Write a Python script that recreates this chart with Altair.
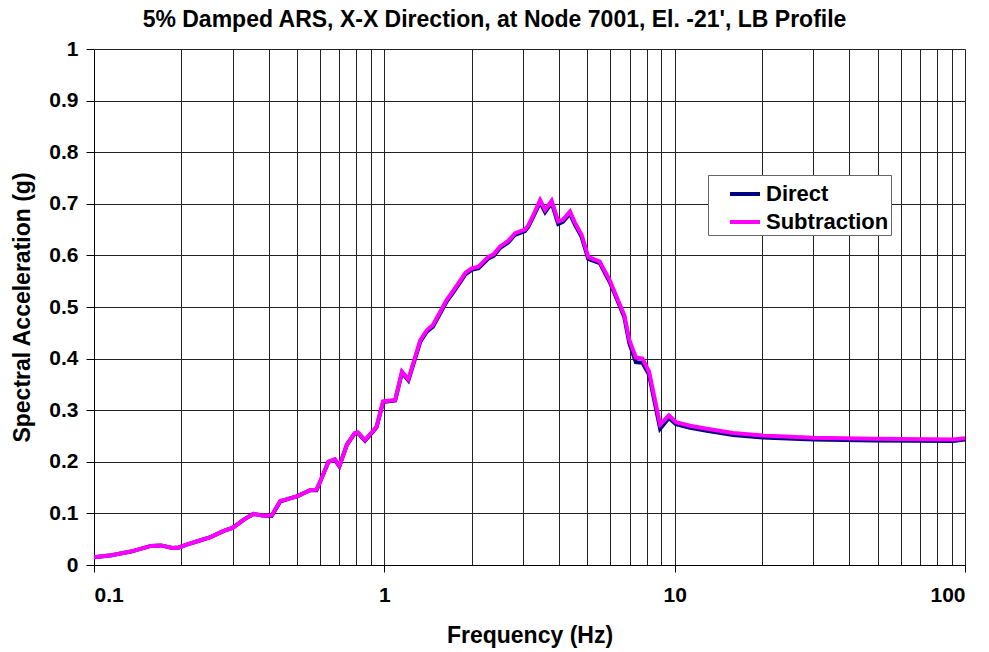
import altair as alt
import pandas as pd

# Frequency points (Hz) of the response spectrum
freq = [0.1, 0.115, 0.134, 0.157, 0.170, 0.186, 0.196, 0.21, 0.227, 0.252,
        0.28, 0.30, 0.318, 0.328, 0.354, 0.38, 0.409, 0.438, 0.473, 0.50,
        0.555, 0.584, 0.61, 0.642, 0.675, 0.70, 0.743, 0.79, 0.81, 0.858,
        0.94, 0.99, 1.09, 1.15, 1.21, 1.33, 1.40, 1.47, 1.58, 1.64,
        1.73, 1.85, 1.90, 2.0, 2.11, 2.28, 2.38, 2.50, 2.67, 2.82,
        3.05, 3.13, 3.26, 3.44, 3.58, 3.77, 3.97, 4.12, 4.36, 4.52,
        4.78, 5.04, 5.52, 5.97, 6.37, 6.71, 6.98, 7.35, 7.74, 8.16,
        8.91, 9.55, 10.1, 11.3, 12.9, 15.9, 20.1, 30.0, 48.3, 91.0,
        100.0]

# Spectral acceleration (g), direct method
direct = [0.015, 0.019, 0.026, 0.037, 0.038, 0.033, 0.034, 0.040, 0.046, 0.054,
          0.066, 0.072, 0.082, 0.088, 0.099, 0.096, 0.095, 0.123, 0.129, 0.133,
          0.145, 0.145, 0.170, 0.200, 0.204, 0.191, 0.233, 0.255, 0.256, 0.241,
          0.267, 0.316, 0.319, 0.373, 0.358, 0.433, 0.452, 0.462, 0.494, 0.511,
          0.529, 0.553, 0.563, 0.572, 0.575, 0.594, 0.599, 0.614, 0.625, 0.640,
          0.647, 0.655, 0.675, 0.703, 0.684, 0.702, 0.661, 0.665, 0.681, 0.661,
          0.636, 0.593, 0.585, 0.549, 0.511, 0.480, 0.430, 0.393, 0.392, 0.369,
          0.264, 0.285, 0.273, 0.266, 0.260, 0.252, 0.247, 0.243, 0.2415, 0.2405,
          0.243]

# Spectral acceleration (g), subtraction method
subtraction = [0.015, 0.019, 0.026, 0.037, 0.038, 0.033, 0.034, 0.040, 0.046, 0.054,
               0.066, 0.072, 0.082, 0.088, 0.099, 0.096, 0.096, 0.124, 0.129, 0.133,
               0.145, 0.146, 0.170, 0.200, 0.205, 0.192, 0.233, 0.255, 0.257, 0.242,
               0.268, 0.317, 0.320, 0.375, 0.360, 0.436, 0.455, 0.465, 0.497, 0.514,
               0.532, 0.556, 0.566, 0.575, 0.578, 0.597, 0.602, 0.617, 0.628, 0.643,
               0.650, 0.658, 0.678, 0.707, 0.688, 0.706, 0.666, 0.669, 0.685, 0.665,
               0.640, 0.597, 0.588, 0.552, 0.514, 0.484, 0.436, 0.402, 0.400, 0.375,
               0.272, 0.290, 0.277, 0.270, 0.264, 0.256, 0.251, 0.2465, 0.2445, 0.243,
               0.2455]

series = ["Direct", "Subtraction"]
colors = ["#000080", "#FF00FF"]

x_grid = [m * d for d in (0.1, 1, 10) for m in range(1, 10)] + [100]
y_ticks = [0, 0.1, 0.2, 0.3, 0.4, 0.5, 0.6, 0.7, 0.8, 0.9, 1.0]

df = pd.concat([
    pd.DataFrame({"f": freq, "sa": direct, "method": series[0]}),
    pd.DataFrame({"f": freq, "sa": subtraction, "method": series[1]}),
])

FONT = "Liberation Sans"
decade = "abs(log(datum.value)/LN10 - round(log(datum.value)/LN10)) < 0.0001"

chart = alt.Chart(df).mark_line(strokeWidth=4).encode(
    x=alt.X("f:Q",
            scale=alt.Scale(type="log", domain=[0.1, 100], nice=False),
            axis=alt.Axis(
                title="Frequency (Hz)",
                values=x_grid,
                labelExpr=f"({decade}) ? format(datum.value, '~g') : ''",
                tickOpacity={"condition": {"test": decade, "value": 1}, "value": 0},
                tickSize=7, tickColor="#000", tickWidth=1,
                labelPadding=12, titlePadding=19,
                domainColor="#000", domainWidth=1,
                grid=True, gridColor="#222", gridWidth=1,
            )),
    y=alt.Y("sa:Q",
            scale=alt.Scale(domain=[0, 1], nice=False),
            axis=alt.Axis(
                title="Spectral Acceleration (g)",
                values=y_ticks, format=".1~f",
                tickSize=8, tickColor="#000", tickWidth=1,
                labelPadding=8, titlePadding=14,
                domainColor="#000", domainWidth=1,
                grid=True, gridColor="#222", gridWidth=1,
            )),
    color=alt.Color("method:N",
                    scale=alt.Scale(domain=series, range=colors),
                    legend=alt.Legend(
                        title=None, orient="none", legendX=614, legendY=126,
                        symbolType="stroke", symbolSize=900, symbolStrokeWidth=4,
                        symbolOffset=18, padding=2, rowPadding=0,
                        labelFontSize=22, labelFont=FONT, labelFontWeight="bold",
                        labelColor="#000", fillColor="#fff",
                        strokeColor="#666", labelOffset=4,
                    )),
).properties(
    width=871,
    height=516,
    background="#ffffff",
    autosize=alt.AutoSizeParams(type="none"),
    padding={"left": 94, "top": 49, "right": 24, "bottom": 87},
    title=alt.TitleParams(
        "5% Damped ARS, X-X Direction, at Node 7001, El. -21', LB Profile",
        font=FONT, fontSize=23, fontWeight="bold", color="#000",
        anchor="middle", dx=-35, offset=6,
    ),
).configure_axis(
    labelFont=FONT, labelFontSize=21, labelFontWeight="bold", labelColor="#000",
    titleFont=FONT, titleFontSize=23, titleFontWeight="bold", titleColor="#000",
).configure_view(stroke=None)

chart.save("out.html", embed_options={"renderer": "svg", "actions": False})
